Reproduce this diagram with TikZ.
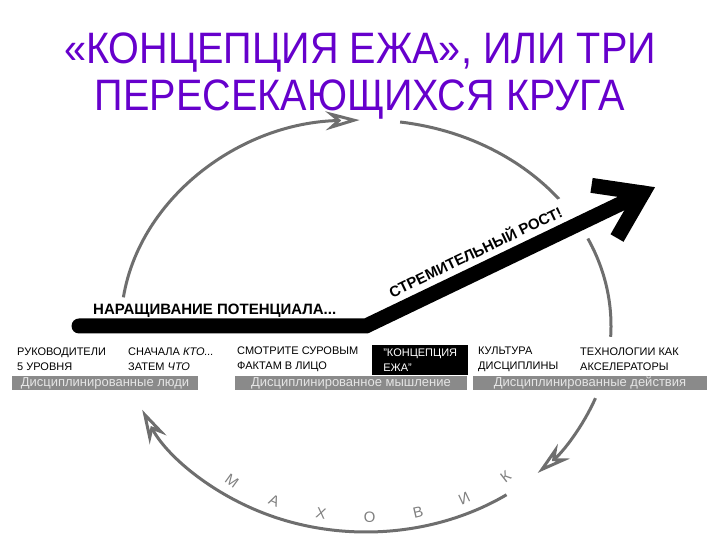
\documentclass[tikz,border=0pt]{standalone}
\usepackage{fontspec}
\setmainfont{Liberation Sans}
\newfontfamily\titlefont{Liberation Sans}[FakeStretch=0.9]
\usetikzlibrary{arrows.meta}
\definecolor{titlepurple}{RGB}{102,0,204}
\definecolor{arcgray}{RGB}{110,110,110}
\definecolor{bargray}{RGB}{138,138,138}

\begin{document}
\begin{tikzpicture}[
    x=1pt, y=1pt,
    heading/.style={anchor=base, inner sep=0pt, text=titlepurple, font=\titlefont\fontsize{44}{50}\selectfont},
    stagelbl/.style={anchor=west, align=left, inner sep=0pt, font=\fontsize{11}{15}\selectfont},
    hedgehog/.style={anchor=north west, fill=black, text=white, align=left, minimum width=96, minimum height=30, inner sep=3pt, font=\fontsize{11}{15}\selectfont},
    discipline/.style={fill=bargray, text=white!90!black, minimum height=14, inner sep=0pt, font=\fontsize{13}{13}\selectfont},
    arcline/.style={arcgray, line width=3pt},
    flywheel/.style={arcline, -{Stealth[open, length=34pt, width=19pt, inset=11pt]}},
    phase/.style={inner sep=0pt, font=\bfseries\fontsize{15}{15}\selectfont},
    growth/.style={line width=15pt},
    wheelletter/.style={text=gray, font=\fontsize{15}{15}\selectfont}
]
    \useasboundingbox (0,0) rectangle (720,540);

    \node[heading] (head1) at (360,476) {«КОНЦЕПЦИЯ ЕЖА», ИЛИ ТРИ};
    \node[heading] (head2) at (360,429) {ПЕРЕСЕКАЮЩИХСЯ КРУГА};

    % the flywheel
    \coordinate (c) at (366,214);
    \draw[flywheel] ([shift={(172:245 and 206)}]c) arc[start angle=172, end angle=91.5, x radius=245, y radius=206];
    \draw[arcline] ([shift={(82:245 and 206)}]c) arc[start angle=82, end angle=-3, x radius=245, y radius=206];
    \draw[flywheel] ([shift={(-20.5:245 and 206)}]c) arc[start angle=-20.5, end angle=-45.5, x radius=245, y radius=206];
    \draw[flywheel] ([shift={(-55:245 and 206)}]c) arc[start angle=-55, end angle=-156, x radius=245, y radius=206];

    \foreach \letter [count=\i] in {М,А,Х,О,В,И,К} {
        \pgfmathsetmacro\ang{-126+12.3*(\i-1)}
        \node[wheelletter, rotate=\ang+90] (w\i) at ([shift={(\ang:228 and 191)}]c) {\letter};
    }

    % growth arrow
    \coordinate (start) at (79,214);
    \coordinate (bend) at (366,214);
    \coordinate (tip) at (643,347);
    \draw[white, line width=48pt] ([shift={(-3,6.3)}]bend) -- ([shift={(-3,6.3)}]tip);
    \draw[growth, line cap=round, line join=miter] (start) -- (bend) -- (tip);
    \draw[growth, line join=miter] ([shift={(171.6:52)}]tip) -- (tip) -- ([shift={(240:52)}]tip);

    \node[phase, anchor=west] (build) at (93,229) {НАРАЩИВАНИЕ ПОТЕНЦИАЛА...};
    \node[phase, rotate=25.6] (surge) at (475,289) {СТРЕМИТЕЛЬНЫЙ РОСТ!};

    % stages
    \node[stagelbl] (leaders) at (17,181) {РУКОВОДИТЕЛИ\\5 УРОВНЯ};
    \node[stagelbl] (who) at (128,181) {СНАЧАЛА \textit{КТО...}\\ЗАТЕМ \textit{ЧТО}};
    \node[stagelbl] (facts) at (237,181) {СМОТРИТЕ СУРОВЫМ\\ФАКТАМ В ЛИЦО};
    \node[hedgehog] (concept) at (372,195) {"КОНЦЕПЦИЯ\\ЕЖА"};
    \node[stagelbl] (culture) at (478,181) {КУЛЬТУРА\\ДИСЦИПЛИНЫ};
    \node[stagelbl] (tech) at (580,181) {ТЕХНОЛОГИИ КАК\\АКСЕЛЕРАТОРЫ};

    \node[discipline, minimum width=186] (people) at (105,157) {Дисциплинированные люди};
    \node[discipline, minimum width=232] (thinking) at (351,157) {Дисциплинированное мышление};
    \node[discipline, minimum width=234] (action) at (590,157) {Дисциплинированные действия};
\end{tikzpicture}
\end{document}
